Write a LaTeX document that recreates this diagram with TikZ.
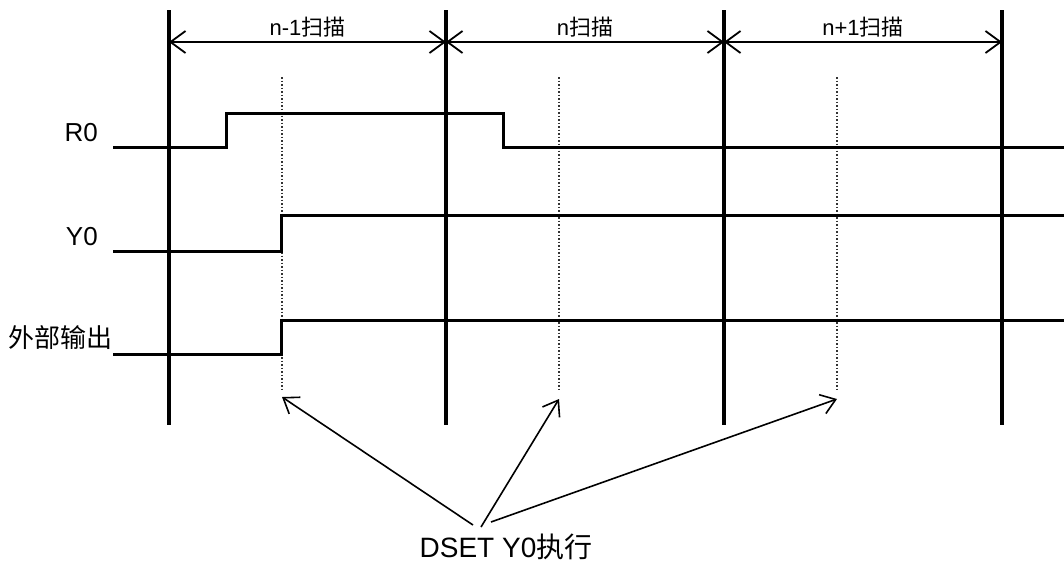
\documentclass[tikz,border=0pt]{standalone}
\usepackage{fontspec}
\setmainfont{Liberation Sans}
\newfontfamily\cjk{Noto Sans CJK SC}
\usetikzlibrary{arrows.meta}
\begin{document}
\begin{tikzpicture}[x=1pt,y=-1pt,
  scanline/.style={line width=4pt},
  sig/.style={line width=3pt, line join=miter},
  probe/.style={dotted, line width=1.5pt, black!80},
  span/.style={line width=1.8pt, {Straight Barb[length=15pt,width=22pt]}-{Straight Barb[length=15pt,width=22pt]}},
  pointer/.style={line width=1.6pt, -{Straight Barb[length=14pt,width=20pt]}},
  lbl/.style={font=\fontsize{26}{30}\selectfont, inner sep=0pt},
  scanlbl/.style={font=\fontsize{22}{26}\selectfont, inner sep=0pt}]
\useasboundingbox (0,0) rectangle (1064,566);
% scan boundaries
\foreach \n/\x in {a/169,b/446,c/724,d/1002}{
  \coordinate (\n-top) at (\x,10);
  \coordinate (\n-bot) at (\x,425);
  \coordinate (\n-arr) at (\x,42);
  \draw[scanline] (\n-top) -- (\n-bot);
}
% scan spans
\draw[span] (a-arr) -- (b-arr);
\draw[span] (b-arr) -- (c-arr);
\draw[span] (c-arr) -- (d-arr);
\node[scanlbl] (s1) at (307.5,27) {n-1{\cjk 扫描}};
\node[scanlbl] (s2) at (585,27) {n{\cjk 扫描}};
\node[scanlbl] (s3) at (863,27) {n+1{\cjk 扫描}};
% probe lines
\foreach \n/\x in {p1/282,p2/559,p3/837}{
  \coordinate (\n-top) at (\x,77);
  \coordinate (\n-bot) at (\x,390);
  \draw[probe] (\n-top) -- (\n-bot);
}
% labels
\node[lbl, anchor=east] (r0) at (98,133) {R0};
\node[lbl, anchor=east] (y0) at (98,237) {Y0};
\node[lbl, anchor=west, font=\cjk\fontsize{26}{30}\selectfont] (ext) at (8,338) {外部输出};
% signals
\draw[sig] (113,147) -- (226,147) -- (226,113) -- (503,113) -- (503,147) -- (1064,147);
\draw[sig] (113,251) -- (281,251) -- (281,215) -- (1064,215);
\draw[sig] (113,354) -- (281,354) -- (281,320) -- (1064,320);
% DSET pointers
\node[lbl, font=\fontsize{28}{32}\selectfont] (dset) at (506,547) {DSET Y0{\cjk 执行}};
\coordinate (t1) at (473,525);
\coordinate (t2) at (481,527);
\coordinate (t3) at (491,522);
\coordinate (h1) at (282,397);
\coordinate (h2) at (559,399);
\coordinate (h3) at (837,399);
\draw[pointer] (t1) -- (h1);
\draw[pointer] (t2) -- (h2);
\draw[pointer] (t3) -- (h3);
\end{tikzpicture}
\end{document}
